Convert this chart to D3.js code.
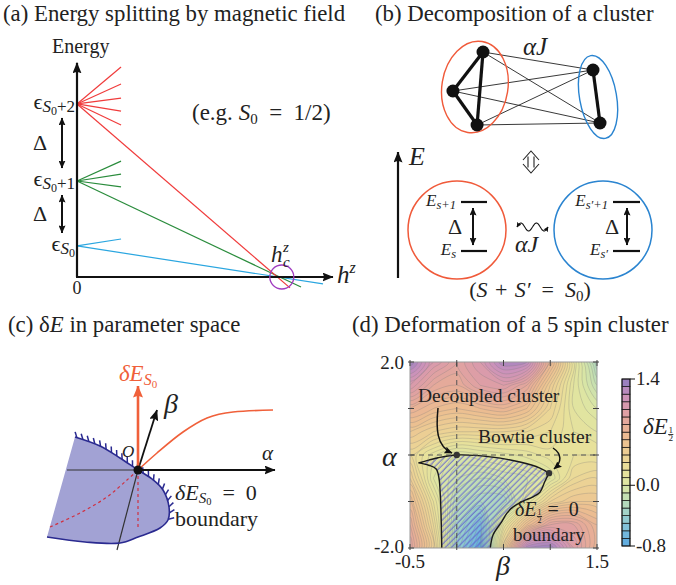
<!DOCTYPE html>
<html>
<head>
<meta charset="utf-8">
<script src="https://cdn.jsdelivr.net/npm/d3@7"></script>
<style>
  body { margin: 0; background: #fff; }
  svg text { fill: #222; }
  .it { font-style: italic; }
</style>
</head>
<body>
<svg id="fig" width="676" height="585"></svg>
<script>
// ---------- (a) energy levels against the field h^z (axis units 0..1) ----------
const levelEnergy = [0.148, 0.457, 0.824];
const levelSub = ["", "+1", "+2"];
const levelColors = ["#2aa6e0", "#2a8c3c", "#f03c3c"];
const fanField = 0.172;
const fanEnergy = [[0.181], [0.552, 0.49, 0.429], [1.0, 0.919, 0.852, 0.79, 0.724]];
const lowestField = [0.961, 0.875, 0.832];
const lowestEnergy = [-0.033, -0.048, -0.052];
const criticalField = 0.80;

// ---------- (b) the cluster, in a unit frame ----------
const spinX = [0.239, 0.072, 0.206, 0.85, 0.889];
const spinY = [0.12, 0.51, 0.85, 0.30, 0.83];
const strongBonds = [[0, 1], [0, 2], [1, 2], [3, 4]];
const groupA = [0, 1, 2];
const groupB = [3, 4];

// ---------- (c) sketch of the boundary surface (units around O) ----------
const rimX = [-0.63, -0.38, -0.18, 0, 0.14, 0.25, 0.31, 0.30, 0.22, 0, -0.18, -0.53, -0.91];
const rimY = [0.33, 0.24, 0.12, 0, -0.09, -0.2, -0.37, -0.5, -0.58, -0.67, -0.73, -0.72, -0.67];
const redCurveX = [0, 0.19, 0.45, 0.69, 0.95, 1.35];
const redCurveY = [0, 0.17, 0.38, 0.52, 0.58, 0.6];
const dashCurveX = [-0.88, -0.58, -0.31, -0.11, 0];
const dashCurveY = [-0.57, -0.43, -0.27, -0.10, 0];

// ---------- (d) contour plot of dE_1/2 over (beta, alpha) ----------
const betaTicks = [-0.5, 0, 0.5, 1, 1.5];
const alphaTicks = [-2, -1, 0, 1, 2];
const gridBeta = [-0.5, -0.25, 0, 0.25, 0.5, 0.75, 1, 1.25, 1.5];
const gridAlpha = [2, 1.5, 1, 0.5, 0, -0.5, -1, -1.5, -2];
const fieldRows = [
  [1.35, 1.05, 0.9, 1.05, 1.3, 1.25, 0.7, 0.15, -0.3],
  [1.05, 0.85, 0.8, 0.95, 1.0, 0.85, 0.45, 0.1, -0.15],
  [0.75, 0.65, 0.6, 0.65, 0.7, 0.6, 0.35, 0.1, 0.0],
  [0.5, 0.4, 0.35, 0.35, 0.35, 0.3, 0.25, 0.15, 0.1],
  [0.3, 0.12, 0.0, 0.04, 0.08, 0.12, 0.18, 0.2, 0.2],
  [0.45, 0.05, -0.1, -0.15, -0.1, -0.05, 0.05, 0.3, 0.35],
  [0.65, 0.2, -0.2, -0.3, -0.3, 0.1, 0.4, 0.5, 0.5],
  [0.8, 0.3, -0.3, -0.6, 0.15, 0.6, 0.9, 0.9, 0.7],
  [0.9, 0.4, -0.4, -0.8, 0.4, 1.3, 1.35, 1.0, 0.7]
];
// dE = 0 boundary, three pieces: left edge, top edge, right edge
const leftEdgeBeta = [-0.16, -0.165, -0.175, -0.19, -0.22, -0.3, -0.41];
const leftEdgeAlpha = [-2.05, -1.5, -0.9, -0.5, -0.3, -0.22, -0.17];
const topEdgeBeta = [-0.41, -0.3, -0.2, 0, 0.356, 0.676, 0.89, 0.987];
const topEdgeAlpha = [-0.17, -0.11, -0.06, 0, -0.04, -0.15, -0.28, -0.39];
const rightEdgeBeta = [0.987, 0.94, 0.89, 0.816, 0.71, 0.6, 0.537, 0.48, 0.388, 0.356];
const rightEdgeAlpha = [-0.39, -0.58, -0.8, -0.9, -0.99, -1.12, -1.25, -1.44, -1.72, -2.05];
const markedBeta = [0, 0.987];
const markedAlpha = [0, -0.39];
const cbStops = [-0.8, -0.6, -0.4, -0.2, 0, 0.2, 0.4, 0.6, 0.8, 1.0, 1.2, 1.4];
const cbColors = ["#5aa8e0", "#7abcdc", "#9acfcc", "#bcdcb6", "#dce6a4", "#e8e09a", "#ecd094",
                  "#ecbe90", "#e6ac98", "#dc9ca8", "#c890bc", "#8c7cc0"];
const cbLabels = [1.4, 0.0, -0.8];

const FONT = "Liberation Serif";
const EN = "\u2002", THICK = "\u2004";
const svg = d3.select("#fig");
const defs = svg.append("defs");

function addMarker(id, color, len, wid) {
  defs.append("marker").attr("id", id)
    .attr("viewBox", `0 0 ${len} ${wid}`)
    .attr("refX", len - 0.5).attr("refY", wid / 2)
    .attr("markerWidth", len).attr("markerHeight", wid)
    .attr("markerUnits", "userSpaceOnUse")
    .attr("orient", "auto-start-reverse")
    .append("path")
    .attr("d", `M0,0L${len},${wid / 2}L0,${wid}L${len * 0.15},${wid / 2}Z`)
    .attr("fill", color);
}
addMarker("ahBlack", "#111", 11, 9);
addMarker("ahSmall", "#111", 8, 7);
addMarker("ahTiny", "#111", 5, 5);
addMarker("ahRed", "#f0603a", 12, 10);

function arrow(g, x1, y1, x2, y2, opts) {
  const o = Object.assign({ color: "#111", width: 1.8, end: "ahBlack", start: null }, opts);
  const l = g.append("line")
    .attr("x1", x1).attr("y1", y1).attr("x2", x2).attr("y2", y2)
    .attr("stroke", o.color).attr("stroke-width", o.width)
    .attr("marker-end", `url(#${o.end})`);
  if (o.start) l.attr("marker-start", `url(#${o.start})`);
  return l;
}
function txt(g, x, y, size) {
  return g.append("text").attr("x", x).attr("y", y).attr("font-size", size).attr("font-family", FONT);
}

// Titles
const titleSize = 22.8;
txt(svg, 3, 21, titleSize).text("(a) Energy splitting by magnetic field");
txt(svg, 375, 21, titleSize).text("(b) Decomposition of a cluster");
const tc = txt(svg, 8, 332, titleSize);
tc.append("tspan").text("(c) δ");
tc.append("tspan").attr("class", "it").text("E");
tc.append("tspan").text(" in parameter space");
txt(svg, 352, 332, titleSize).text("(d) Deformation of a 5 spin cluster");

// ================= (a) =================
const gA = svg.append("g");
const xA = d3.scaleLinear().domain([0, 1]).range([77, 333]);
const yA = d3.scaleLinear().domain([0, 1]).range([277, 67]);

levelEnergy.forEach((e, i) => {
  fanEnergy[i].forEach(f => {
    gA.append("line")
      .attr("x1", xA(0)).attr("y1", yA(e))
      .attr("x2", xA(fanField)).attr("y2", yA(f))
      .attr("stroke", levelColors[i]).attr("stroke-width", 1.2);
  });
  gA.append("line")
    .attr("x1", xA(0)).attr("y1", yA(e))
    .attr("x2", xA(lowestField[i])).attr("y2", yA(lowestEnergy[i]))
    .attr("stroke", levelColors[i]).attr("stroke-width", 1.2);
});

arrow(gA, xA(0), yA(0), xA(0), yA(1.02), { width: 2.2 });
arrow(gA, xA(0) - 1, yA(0), xA(1), yA(0), { width: 2.2 });

gA.append("circle").attr("cx", xA(criticalField)).attr("cy", yA(0)).attr("r", 12)
  .attr("fill", "none").attr("stroke", "#a03cc0").attr("stroke-width", 1.3);

levelEnergy.forEach((e, i) => {
  const t = txt(gA, 75, yA(e) + 5, 22).attr("text-anchor", "end");
  t.append("tspan").text("ϵ");
  t.append("tspan").attr("class", "it").attr("font-size", 17).attr("dy", 3).text("S");
  t.append("tspan").attr("font-size", 12).attr("dy", 3).text("0");
  if (levelSub[i]) t.append("tspan").attr("font-size", 17).attr("dy", -3).text(levelSub[i]);
});

for (let i = 0; i < 2; i++) {
  const yTop = yA(levelEnergy[i + 1]) + 14;
  const yBot = yA(levelEnergy[i]) - 13;
  arrow(gA, 62, yBot, 62, yTop, { width: 2, end: "ahSmall", start: "ahSmall" });
  txt(gA, 40, (yTop + yBot) / 2 + 7, 22).attr("text-anchor", "middle").text("Δ");
}

txt(gA, 52, 53, 20).text("Energy");
const eg = txt(gA, 192, 120, 23);
eg.append("tspan").text("(e.g. ");
eg.append("tspan").attr("class", "it").text("S");
eg.append("tspan").attr("font-size", 15).attr("dy", 4).text("0");
eg.append("tspan").attr("dy", -4).text(EN + "=" + EN + "1/2)");
txt(gA, xA(0), 294, 18).attr("text-anchor", "middle").text("0");
const hz = txt(gA, 337, 283, 25);
hz.append("tspan").attr("class", "it").text("h");
hz.append("tspan").attr("class", "it").attr("font-size", 16).attr("dy", -10).text("z");
txt(gA, 271, 262, 23).attr("class", "it").text("h");
txt(gA, 283, 252, 15).attr("class", "it").text("z");
txt(gA, 283, 267, 15).attr("class", "it").text("c");

// ================= (b) =================
const gB = svg.append("g");
const xB = d3.scaleLinear().domain([0, 1]).range([440, 620]);
const yB = d3.scaleLinear().domain([0, 1]).range([40, 140]);

groupA.forEach(a => groupB.forEach(b => {
  gB.append("line")
    .attr("x1", xB(spinX[a])).attr("y1", yB(spinY[a]))
    .attr("x2", xB(spinX[b])).attr("y2", yB(spinY[b]))
    .attr("stroke", "#222").attr("stroke-width", 0.9);
}));
strongBonds.forEach(([a, b]) => {
  gB.append("line")
    .attr("x1", xB(spinX[a])).attr("y1", yB(spinY[a]))
    .attr("x2", xB(spinX[b])).attr("y2", yB(spinY[b]))
    .attr("stroke", "#111").attr("stroke-width", 3.2);
});
gB.append("ellipse").attr("cx", 0).attr("cy", 0).attr("rx", 33).attr("ry", 46)
  .attr("transform", `translate(${xB(0.194)},${yB(0.47)}) rotate(9)`)
  .attr("fill", "none").attr("stroke", "#f05a3a").attr("stroke-width", 1.4);
gB.append("ellipse").attr("cx", 0).attr("cy", 0).attr("rx", 18.5).attr("ry", 42)
  .attr("transform", `translate(${xB(0.878)},${yB(0.57)}) rotate(-10)`)
  .attr("fill", "none").attr("stroke", "#2a84d0").attr("stroke-width", 1.4);
spinX.forEach((x, i) => {
  gB.append("circle").attr("cx", xB(x)).attr("cy", yB(spinY[i])).attr("r", 6.5).attr("fill", "#111");
});
txt(gB, 523, 55, 25).attr("class", "it").text("αJ");

// equivalence symbol
gB.append("path")
  .attr("d", "M523,160 L531,151 L539,160 M528,156.5 L528,167.5 M534,156.5 L534,167.5 M523,164 L531,173 L539,164")
  .attr("fill", "none").attr("stroke", "#222").attr("stroke-width", 1.1);

// energy axis
arrow(gB, 398, 278, 398, 152, { width: 2.2 });
txt(gB, 409, 165, 26).attr("class", "it").text("E");

const subBoxes = [
  { cx: 457, color: "#f05a3a", lx1: 461, lx2: 487, ax: 473, dx: 455, lab: ["s+1", "s"] },
  { cx: 603, color: "#2a84d0", lx1: 613, lx2: 640, ax: 627, dx: 612, lab: ["s′+1", "s′"] }
];
subBoxes.forEach(s => {
  gB.append("circle").attr("cx", s.cx).attr("cy", 230).attr("r", 49)
    .attr("fill", "none").attr("stroke", s.color).attr("stroke-width", 1.5);
  [202, 251].forEach(y => gB.append("line").attr("x1", s.lx1).attr("x2", s.lx2)
    .attr("y1", y).attr("y2", y).attr("stroke", "#111").attr("stroke-width", 2.2));
  arrow(gB, s.ax, 245, s.ax, 208, { width: 2, end: "ahSmall", start: "ahSmall" });
  txt(gB, s.dx, 234, 22).attr("text-anchor", "middle").text("Δ");
  [[206, s.lab[0]], [255, s.lab[1]]].forEach(([y, sub]) => {
    const t = txt(gB, s.lx1 - 5, y, 17).attr("text-anchor", "end");
    t.append("tspan").attr("class", "it").text("E");
    t.append("tspan").attr("class", "it").attr("font-size", 12.5).attr("dy", 3).text(sub);
  });
});

// wavy coupling
const wave = d3.range(0, 1.0001, 0.02).map(t => [517 + 31 * t, 227 - 4 * Math.sin(t * Math.PI * 4)]);
gB.append("path").attr("d", d3.line().curve(d3.curveBasis)(wave))
  .attr("fill", "none").attr("stroke", "#111").attr("stroke-width", 1.1)
  .attr("marker-start", "url(#ahTiny)").attr("marker-end", "url(#ahTiny)");
txt(gB, 515, 252, 24).attr("class", "it").text("αJ");
const ss = txt(gB, 530, 297, 22).attr("text-anchor", "middle");
ss.append("tspan").text("(");
ss.append("tspan").attr("class", "it").text("S");
ss.append("tspan").text(THICK + "+" + THICK);
ss.append("tspan").attr("class", "it").text("S′");
ss.append("tspan").text(EN + "=" + EN);
ss.append("tspan").attr("class", "it").text("S");
ss.append("tspan").attr("font-size", 15).attr("dy", 4).text("0");
ss.append("tspan").attr("dy", -4).text(")");

// ================= (c) =================
const gC = svg.append("g");
const xC = d3.scaleLinear().domain([-1, 1]).range([38, 238]);
const yC = d3.scaleLinear().domain([-1, 1]).range([570, 370]);
const rimPts = rimX.map((x, i) => [xC(x), yC(rimY[i])]);
const rimLine = d3.line().curve(d3.curveCatmullRom.alpha(0.5));
gC.append("path").attr("d", rimLine(rimPts) + "Z")
  .attr("fill", "#a2a2d4").attr("stroke", "none");

// back parts of the axes
gC.append("line").attr("x1", xC(-0.71)).attr("y1", yC(0)).attr("x2", xC(0)).attr("y2", yC(0))
  .attr("stroke", "#333").attr("stroke-width", 1.2);
gC.append("line").attr("x1", xC(0)).attr("y1", yC(0)).attr("x2", xC(-0.21)).attr("y2", yC(-0.8))
  .attr("stroke", "#333").attr("stroke-width", 1.2);

const redDash = { stroke: "#d03040", width: 1.2, dash: "3,3" };
gC.append("path")
  .attr("d", d3.line().curve(d3.curveCatmullRom)(dashCurveX.map((x, i) => [xC(x), yC(dashCurveY[i])])))
  .attr("fill", "none").attr("stroke", redDash.stroke).attr("stroke-width", redDash.width)
  .attr("stroke-dasharray", redDash.dash);
gC.append("line").attr("x1", xC(0)).attr("y1", yC(0)).attr("x2", xC(0)).attr("y2", yC(-0.6))
  .attr("stroke", redDash.stroke).attr("stroke-width", redDash.width).attr("stroke-dasharray", redDash.dash);

const rim = gC.append("path").attr("d", rimLine(rimPts))
  .attr("fill", "none").attr("stroke", "#2a2a90").attr("stroke-width", 1.6);
const rimNode = rim.node();
const rimLen = rimNode.getTotalLength();
const th = 35 * Math.PI / 180;
for (let s = 2; s < rimLen; s += 6.3) {
  const p = rimNode.getPointAtLength(s);
  const q = rimNode.getPointAtLength(Math.min(rimLen, s + 0.6));
  let tx = q.x - p.x, ty = q.y - p.y;
  const n = Math.hypot(tx, ty) || 1;
  tx /= n; ty /= n;
  if (tx < -0.45) break;
  const nx = ty, ny = -tx;
  const dx = nx * Math.cos(th) - tx * Math.sin(th);
  const dy = ny * Math.cos(th) - ty * Math.sin(th);
  gC.append("line").attr("x1", p.x).attr("y1", p.y)
    .attr("x2", p.x + 6 * dx).attr("y2", p.y + 6 * dy)
    .attr("stroke", "#2a2a90").attr("stroke-width", 1.5);
}

gC.append("path")
  .attr("d", d3.line().curve(d3.curveMonotoneX)(redCurveX.map((x, i) => [xC(x), yC(redCurveY[i])])))
  .attr("fill", "none").attr("stroke", "#f0603a").attr("stroke-width", 1.6);
arrow(gC, xC(0), yC(0), xC(1.37), yC(0), { width: 2.2 });
arrow(gC, xC(0), yC(0), xC(0.19), yC(0.6), { width: 1.8 });
arrow(gC, xC(0), yC(0), xC(0), yC(0.84), { width: 2.6, color: "#f0603a", end: "ahRed" });
gC.append("circle").attr("cx", xC(0)).attr("cy", yC(0)).attr("r", 4.5).attr("fill", "#111");

const dE = txt(gC, xC(0), 381, 23).attr("text-anchor", "middle");
dE.append("tspan").attr("class", "it").attr("fill", "#f0603a").text("δE");
dE.append("tspan").attr("class", "it").attr("fill", "#f0603a").attr("font-size", 16).attr("dy", 4).text("S");
dE.append("tspan").attr("fill", "#f0603a").attr("font-size", 11).attr("dy", 3).text("0");
txt(gC, 164, 413, 28).attr("class", "it").text("β");
txt(gC, 262, 460, 21).attr("class", "it").text("α");
txt(gC, 122, 457, 17).attr("class", "it").text("O");
const bz = txt(gC, 175, 500, 22);
bz.append("tspan").attr("class", "it").text("δE");
bz.append("tspan").attr("class", "it").attr("font-size", 15).attr("dy", 3).text("S");
bz.append("tspan").attr("font-size", 10.5).attr("dy", 2).text("0");
bz.append("tspan").attr("dy", -5).text(EN + "=" + EN + "0");
txt(gC, 175, 526, 22).text("boundary");

// ================= (d) =================
const gD = svg.append("g");
const xD = d3.scaleLinear().domain([-0.5, 1.5]).range([410, 597]);
const yD = d3.scaleLinear().domain([-2, 2]).range([548, 362]);
const color = d3.scaleLinear().domain(cbStops).range(cbColors).clamp(true);

defs.append("clipPath").attr("id", "plotClip").append("rect")
  .attr("x", xD(-0.5)).attr("y", yD(2)).attr("width", xD(1.5) - xD(-0.5)).attr("height", yD(-2) - yD(2));
defs.append("pattern").attr("id", "hatch").attr("patternUnits", "userSpaceOnUse")
  .attr("width", 4.3).attr("height", 4.3).attr("patternTransform", "rotate(45)")
  .append("line").attr("x1", 1).attr("y1", 0).attr("x2", 1).attr("y2", 4.3)
  .attr("stroke", "#5c5cd2").attr("stroke-width", 0.9);

const plot = gD.append("g").attr("clip-path", "url(#plotClip)");
plot.append("rect").attr("x", xD(-0.5)).attr("y", yD(2))
  .attr("width", xD(1.5) - xD(-0.5)).attr("height", yD(-2) - yD(2)).attr("fill", color(-0.8));

const nx = gridBeta.length, ny = gridAlpha.length;
const gxs = d3.scaleLinear().domain([0.5, nx - 0.5]).range([xD(gridBeta[0]), xD(gridBeta[nx - 1])]);
const gys = d3.scaleLinear().domain([0.5, ny - 0.5]).range([yD(gridAlpha[0]), yD(gridAlpha[ny - 1])]);
const levels = d3.range(-0.8, 1.401, 0.05);
const contours = d3.contours().size([nx, ny]).thresholds(levels)(fieldRows.flat());
const ringLine = d3.line().x(p => gxs(p[0])).y(p => gys(p[1])).curve(d3.curveCatmullRomClosed);
const contourD = c => c.coordinates.map(poly => poly.map(r => ringLine(r.slice(0, -1))).join("")).join("");

plot.selectAll(".band").data(contours).join("path").attr("class", "band")
  .attr("d", contourD).attr("fill-rule", "evenodd")
  .attr("fill", d => color(d.value + 0.025));
plot.selectAll(".iso").data(contours.slice(1)).join("path").attr("class", "iso")
  .attr("d", contourD).attr("fill", "none")
  .attr("stroke", "#7a7a7a").attr("stroke-opacity", 0.4).attr("stroke-width", 0.7);

// negative region, hatched
const edgeLine = d3.line().x(d => xD(d[0])).y(d => yD(d[1])).curve(d3.curveCatmullRom.alpha(0.5));
const pieces = [
  leftEdgeBeta.map((b, i) => [b, leftEdgeAlpha[i]]),
  topEdgeBeta.map((b, i) => [b, topEdgeAlpha[i]]),
  rightEdgeBeta.map((b, i) => [b, rightEdgeAlpha[i]])
];
const edgeD = pieces.map((p, i) => {
  const d = edgeLine(p);
  return i === 0 ? d : "L" + d.slice(1);
}).join("");
plot.append("path").attr("d", edgeD + "Z").attr("fill", "url(#hatch)");
plot.append("path").attr("d", edgeD).attr("fill", "none")
  .attr("stroke", "#1a1a1a").attr("stroke-width", 1.4);

// reference lines
plot.append("line").attr("x1", xD(0)).attr("x2", xD(0)).attr("y1", yD(2)).attr("y2", yD(-2))
  .attr("stroke", "#555").attr("stroke-width", 1).attr("stroke-dasharray", "5,4");
plot.append("line").attr("x1", xD(-0.5)).attr("x2", xD(1.5)).attr("y1", yD(0)).attr("y2", yD(0))
  .attr("stroke", "#555").attr("stroke-width", 1).attr("stroke-dasharray", "5,4");
markedBeta.forEach((b, i) => {
  plot.append("circle").attr("cx", xD(b)).attr("cy", yD(markedAlpha[i])).attr("r", 3.2).attr("fill", "#333");
});

// frame and ticks
gD.append("rect").attr("x", xD(-0.5)).attr("y", yD(2))
  .attr("width", xD(1.5) - xD(-0.5)).attr("height", yD(-2) - yD(2))
  .attr("fill", "none").attr("stroke", "#999").attr("stroke-width", 1);
betaTicks.forEach(b => {
  gD.append("line").attr("x1", xD(b)).attr("x2", xD(b)).attr("y1", yD(-2) + 2).attr("y2", yD(-2) - 4)
    .attr("stroke", "#444");
  gD.append("line").attr("x1", xD(b)).attr("x2", xD(b)).attr("y1", yD(2) - 2).attr("y2", yD(2) + 4)
    .attr("stroke", "#444");
});
alphaTicks.forEach(a => {
  gD.append("line").attr("x1", xD(-0.5) - 2).attr("x2", xD(-0.5) + 4).attr("y1", yD(a)).attr("y2", yD(a))
    .attr("stroke", "#444");
  gD.append("line").attr("x1", xD(1.5) + 2).attr("x2", xD(1.5) - 4).attr("y1", yD(a)).attr("y2", yD(a))
    .attr("stroke", "#444");
});
txt(gD, 404, yD(2) + 7, 19).attr("text-anchor", "end").text("2.0");
txt(gD, 404, yD(-2) + 5, 19).attr("text-anchor", "end").text("-2.0");
txt(gD, 382, yD(0) + 11, 28).attr("class", "it").text("α");
txt(gD, xD(-0.5), 568, 19).attr("text-anchor", "middle").text("-0.5");
txt(gD, xD(1.5), 568, 19).attr("text-anchor", "middle").text("1.5");
txt(gD, 503, 575, 28).attr("text-anchor", "middle").attr("class", "it").text("β");

// annotations
txt(gD, 418, 402, 19.5).text("Decoupled cluster");
txt(gD, 478, 443, 19.5).text("Bowtie cluster");
gD.append("path").attr("d", "M438,408 C436,428 436,446 452,453")
  .attr("fill", "none").attr("stroke", "#111").attr("stroke-width", 1.5).attr("marker-end", "url(#ahSmall)");
gD.append("path").attr("d", "M553,448 C562,454 562,462 554,469")
  .attr("fill", "none").attr("stroke", "#111").attr("stroke-width", 1.5).attr("marker-end", "url(#ahSmall)");

function deltaHalf(g, x, y, size) {
  const t = txt(g, x, y, size).attr("class", "it").text("δE");
  const w = t.node().getComputedTextLength();
  const fx = x + w + 3;
  txt(g, fx, y - 1.5, size * 0.4).attr("text-anchor", "middle").text("1");
  g.append("line").attr("x1", fx - 2.6).attr("x2", fx + 2.6).attr("y1", y + 0.5).attr("y2", y + 0.5)
    .attr("stroke", "#222").attr("stroke-width", 0.9);
  txt(g, fx, y + 7, size * 0.4).attr("text-anchor", "middle").text("2");
  return fx + 4;
}
const afterFrac = deltaHalf(gD, 515, 516, 20);
txt(gD, afterFrac + 4, 516, 20).text("=" + EN + "0");
txt(gD, 513, 541, 19).text("boundary");

// colour bar
const cbX = 622, cbW = 8;
const yCb = d3.scaleLinear().domain([-0.8, 1.4]).range([546, 379]);
const cells = d3.range(-0.8, 1.399, 0.1);
gD.selectAll(".cb").data(cells).join("rect").attr("class", "cb")
  .attr("x", cbX).attr("width", cbW)
  .attr("y", d => yCb(d + 0.1)).attr("height", d => yCb(d) - yCb(d + 0.1))
  .attr("fill", d => color(d + 0.05)).attr("stroke", "#111").attr("stroke-width", 0.7);
gD.append("rect").attr("x", cbX).attr("y", yCb(1.4)).attr("width", cbW).attr("height", yCb(-0.8) - yCb(1.4))
  .attr("fill", "none").attr("stroke", "#111").attr("stroke-width", 0.9);
cbLabels.forEach(v => {
  gD.append("line").attr("x1", cbX + cbW).attr("x2", cbX + cbW + 5).attr("y1", yCb(v)).attr("y2", yCb(v))
    .attr("stroke", "#111");
  txt(gD, cbX + cbW + 6, yCb(v) + 6, 19).text(v.toFixed(1));
});
deltaHalf(gD, 643, 434, 23);
</script>
</body>
</html>
